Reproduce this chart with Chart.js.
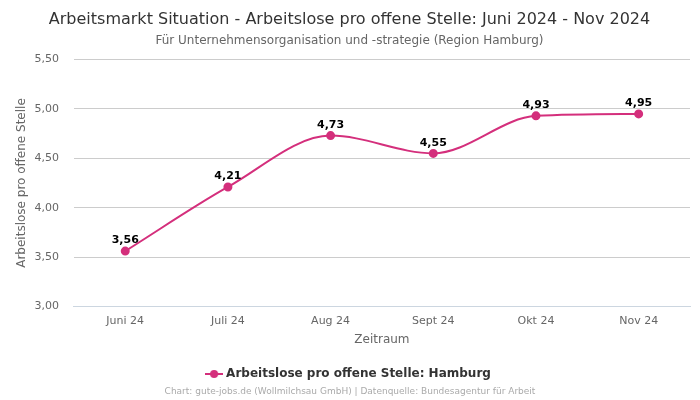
<!DOCTYPE html>
<html>
<head>
<meta charset="utf-8">
<script src="https://cdn.jsdelivr.net/npm/chart.js@4/dist/chart.umd.min.js"></script>
<style>
  html, body { margin: 0; padding: 0; background: #fff; }
  #wrap { width: 700px; height: 400px; }
</style>
</head>
<body>
<div id="wrap"><canvas id="chart"></canvas></div>
<script>
const months = ["Juni 24", "Juli 24", "Aug 24", "Sept 24", "Okt 24", "Nov 24"];
const hamburg = [3.56, 4.21, 4.73, 4.55, 4.93, 4.95];
const seriesLabel = "Arbeitslose pro offene Stelle: Hamburg";
const lineColor = "#d42f7c";

Chart.defaults.font.family = "'DejaVu Sans', sans-serif";
Chart.defaults.color = "#666";

const fmt = v => v.toFixed(2).replace(".", ",");

// little line-with-dot marker for the legend
function legendMarker() {
  const c = document.createElement("canvas");
  c.width = 18; c.height = 10;
  const g = c.getContext("2d");
  g.strokeStyle = lineColor; g.lineWidth = 2;
  g.beginPath(); g.moveTo(0, 5); g.lineTo(18, 5); g.stroke();
  g.fillStyle = lineColor;
  g.beginPath(); g.arc(9, 5, 4, 0, Math.PI * 2); g.fill();
  return c;
}

const valueLabels = {
  id: "valueLabels",
  afterDatasetsDraw(chart) {
    const ctx = chart.ctx;
    const meta = chart.getDatasetMeta(0);
    ctx.save();
    ctx.font = "bold 11px 'DejaVu Sans', sans-serif";
    ctx.fillStyle = "#000";
    ctx.textAlign = "center";
    ctx.textBaseline = "bottom";
    meta.data.forEach((pt, i) => {
      ctx.fillText(fmt(chart.data.datasets[0].data[i]), pt.x, pt.y - 5);
    });
    ctx.restore();
  }
};

const footer = {
  id: "footer",
  afterDraw(chart) {
    const ctx = chart.ctx;
    ctx.save();
    ctx.font = "9px 'DejaVu Sans', sans-serif";
    ctx.fillStyle = "#aaa";
    ctx.textAlign = "center";
    ctx.textBaseline = "middle";
    ctx.fillText("Chart: gute-jobs.de (Wollmilchsau GmbH) | Datenquelle: Bundesagentur für Arbeit", chart.width / 2, 392);
    ctx.restore();
  }
};

new Chart("chart", {
  type: "line",
  data: {
    labels: months,
    datasets: [{
      label: seriesLabel,
      data: hamburg,
      borderColor: lineColor,
      backgroundColor: lineColor,
      borderWidth: 2,
      pointRadius: 3.5,
      pointHoverRadius: 5,
      cubicInterpolationMode: "monotone",
      fill: false
    }]
  },
  options: {
    responsive: true,
    maintainAspectRatio: false,
    animation: false,
    layout: { padding: { left: 9, right: 10, bottom: 10 } },
    plugins: {
      title: {
        display: true,
        text: "Arbeitsmarkt Situation - Arbeitslose pro offene Stelle: Juni 2024 - Nov 2024",
        color: "#333",
        font: { size: 16, weight: "normal" },
        padding: { top: 10, bottom: 4 }
      },
      subtitle: {
        display: true,
        text: "Für Unternehmensorganisation und -strategie (Region Hamburg)",
        color: "#666",
        font: { size: 12 },
        padding: { bottom: 12 }
      },
      legend: {
        position: "bottom",
        labels: {
          color: "#333",
          font: { size: 12, weight: "bold" },
          usePointStyle: true,
          padding: 18,
          generateLabels(chart) {
            const items = Chart.defaults.plugins.legend.labels.generateLabels(chart);
            items.forEach(it => { it.pointStyle = legendMarker(); });
            return items;
          }
        }
      },
      tooltip: { enabled: false }
    },
    scales: {
      x: {
        offset: true,
        grid: { display: false },
        border: { color: "#ccd6e0" },
        ticks: { font: { size: 11 }, color: "#666", padding: 0 },
        title: { display: true, text: "Zeitraum", color: "#666", font: { size: 12 }, padding: { top: 5, bottom: 3 } }
      },
      y: {
        min: 3,
        max: 5.5,
        ticks: { stepSize: 0.5, font: { size: 11 }, color: "#666", padding: 15, callback: v => fmt(v) },
        grid: { color: "#ccc", drawTicks: false },
        border: { display: false },
        title: { display: true, text: "Arbeitslose pro offene Stelle", color: "#666", font: { size: 12 }, padding: { top: 6, bottom: -10 } }
      }
    }
  },
  plugins: [valueLabels, footer]
});
</script>
</body>
</html>
